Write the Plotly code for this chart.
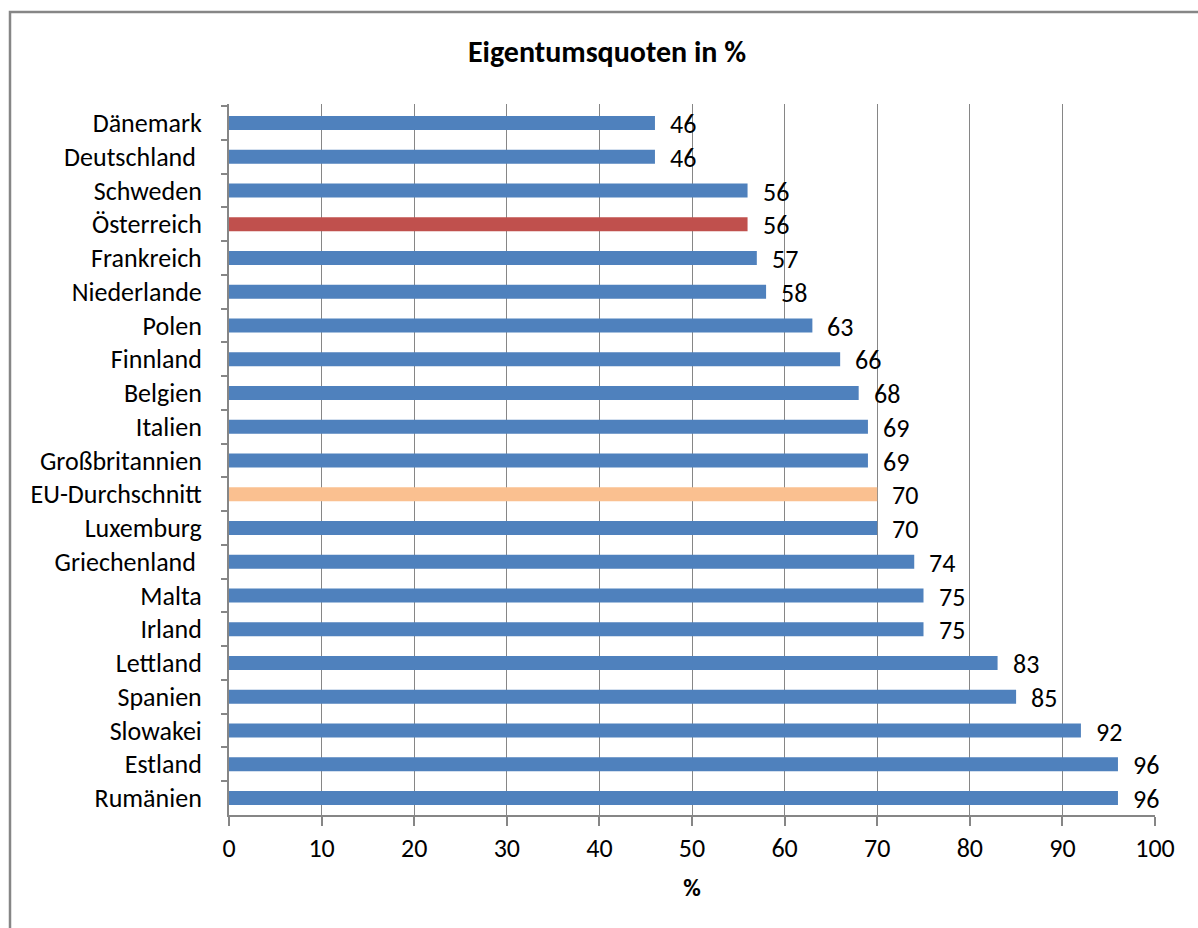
import plotly.graph_objects as go

# Home ownership rates (%) by country, top to bottom as shown
countries = [
    "Dänemark", "Deutschland\u00a0", "Schweden", "Österreich", "Frankreich",
    "Niederlande", "Polen", "Finnland", "Belgien", "Italien",
    "Großbritannien", "EU-Durchschnitt", "Luxemburg", "Griechenland\u00a0",
    "Malta", "Irland", "Lettland", "Spanien", "Slowakei", "Estland", "Rumänien",
]
values = [46, 46, 56, 56, 57, 58, 63, 66, 68, 69, 69, 70, 70, 74, 75, 75, 83, 85, 92, 96, 96]

BLUE = "#4F81BD"
RED = "#C0504D"
ORANGE = "#FAC090"
GRID = "#868686"
FONT = "Carlito, 'Open Sans', sans-serif"

highlight = {"Österreich": RED, "EU-Durchschnitt": ORANGE}
colors = [highlight.get(c, BLUE) for c in countries]

fig = go.Figure(
    go.Bar(
        x=values,
        y=countries,
        orientation="h",
        marker=dict(color=colors, line=dict(width=0)),
        width=0.41,
        hoverinfo="x+y",
    )
)

# value labels to the right of each bar
for c, v in zip(countries, values):
    fig.add_annotation(
        x=v, y=c, text=str(v), showarrow=False,
        xanchor="left", yanchor="middle", xshift=13, yshift=-1,
        font=dict(family=FONT, size=26, color="#000000"),
    )

# outer chart frame (runs past the right and bottom edges of the page)
L, R, T, B = 229, 1155, 104, 815
pw, ph = R - L, B - T
fig.add_shape(
    type="rect", xref="paper", yref="paper",
    x0=(10 - L) / pw, x1=(1260 - L) / pw,
    y0=(B - 1000) / ph, y1=(B - 12) / ph,
    line=dict(color=GRID, width=2.5), fillcolor="rgba(0,0,0,0)", layer="below",
)

fig.update_layout(
    width=1198, height=928,
    margin=dict(l=L, r=1198 - R, t=T, b=928 - B, pad=0),
    paper_bgcolor="white", plot_bgcolor="white",
    showlegend=False,
    bargap=0.59,
    title=dict(
        text="<b>Eigentumsquoten in %</b>",
        x=607 / 1198, xanchor="center",
        y=1 - 51 / 928, yanchor="middle",
        font=dict(family=FONT, size=30, color="#000000"),
    ),
    font=dict(family=FONT, color="#000000"),
)

fig.update_xaxes(
    range=[0, 100], dtick=10, tick0=0,
    showgrid=True, gridcolor=GRID, gridwidth=1,
    showline=True, linecolor=GRID, linewidth=2,
    ticks="outside", ticklen=9, tickcolor=GRID, tickwidth=1.5,
    tickfont=dict(family=FONT, size=26, color="#000000"),
    title=dict(text="<b>%</b>", font=dict(family=FONT, size=24, color="#000000"), standoff=16),
    zeroline=False, fixedrange=True,
)

fig.update_yaxes(
    categoryorder="array", categoryarray=countries,
    autorange="reversed",
    showgrid=False,
    showline=True, linecolor=GRID, linewidth=2,
    ticks="outside", tickson="boundaries", ticklen=6, tickcolor=GRID, tickwidth=1.5,
    tickfont=dict(family=FONT, size=26, color="#000000"),
    ticklabelstandoff=20,
    fixedrange=True,
)

fig.write_html("out.html")
